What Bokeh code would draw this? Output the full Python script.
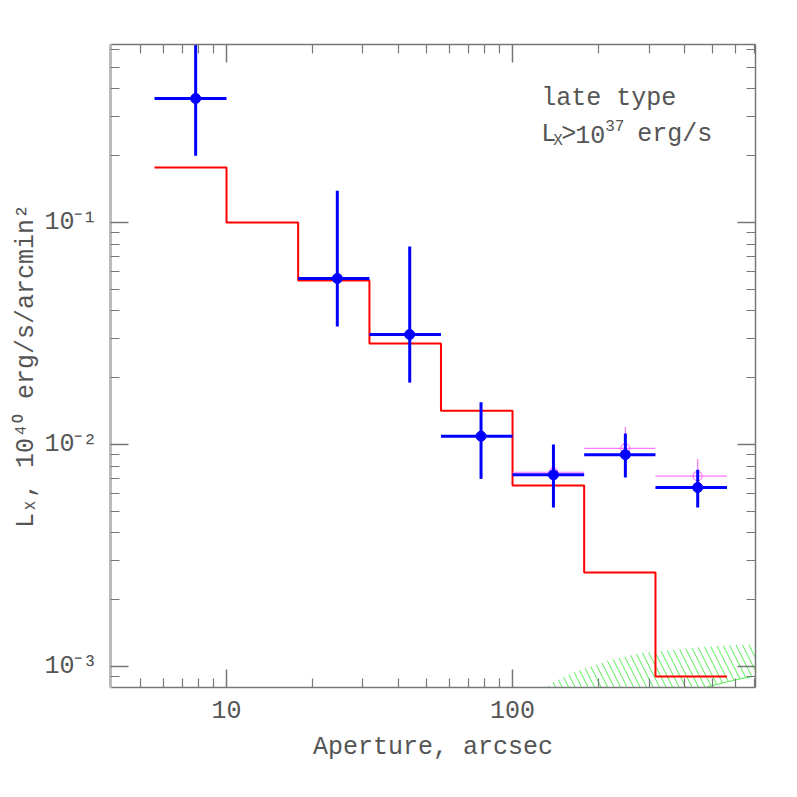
from bokeh.plotting import figure
from bokeh.models import FixedTicker, LogAxis, Label, Range1d
from bokeh.embed import file_html
from bokeh.resources import INLINE

# ---------------- data ----------------
bin_lo = [5.6, 17.8, 31.6, 56.2, 100, 178, 316]
bin_hi = [10.0, 31.6, 56.2, 100, 178, 316, 562]
pt_x = [7.8, 24.4, 43.7, 77.6, 139, 248, 444]
pt_y = [0.362, 0.056, 0.0313, 0.0109, 0.0073, 0.0090, 0.0064]
pt_ylo = [0.200, 0.034, 0.019, 0.0070, 0.0052, 0.0071, 0.0052]
pt_yhi = [0.80, 0.139, 0.078, 0.0155, 0.0100, 0.0112, 0.0077]

mg_lo = [100, 178, 316]
mg_hi = [178, 316, 562]
mg_x = [139, 248, 444]
mg_y = [0.0075, 0.0096, 0.0072]
mg_ylo = [0.0070, 0.0088, 0.0066]
mg_yhi = [0.0080, 0.0120, 0.0086]

step_edges = [5.6, 10, 17.8, 31.6, 56.2, 100, 178, 316, 562]
step_vals = [0.177, 0.100, 0.0548, 0.0285, 0.0142, 0.00653, 0.00265, 0.000902]

band_x = [120, 136, 163, 215, 280, 366, 481, 600, 720]
band_hi = [0.00070, 0.00084, 0.00094, 0.00106, 0.00115, 0.00119, 0.00123, 0.00125, 0.00126]
band_lo = [0.00030, 0.00036, 0.00043, 0.00052, 0.00061, 0.00070, 0.00081, 0.00087, 0.00091]

x_major = [10, 100]
x_minor = [5, 6, 7, 8, 9, 20, 30, 40, 50, 60, 70, 80, 90, 200, 300, 400, 500, 600, 700]
y_major = [0.001, 0.01, 0.1]
y_minor = [0.0009, 0.002, 0.003, 0.004, 0.005, 0.006, 0.007, 0.008, 0.009,
           0.02, 0.03, 0.04, 0.05, 0.06, 0.07, 0.08, 0.09, 0.2, 0.3, 0.4, 0.5, 0.6]
y_labels = {0.001: "10\u207b\u00b3", 0.01: "10\u207b\u00b2", 0.1: "10\u207b\u00b9"}
x_labels = {10: "10", 100: "100"}

FONT = "Liberation Mono"
TXT = "#555555"

p = figure(width=781, height=781, x_axis_type="log", y_axis_type="log",
           x_range=Range1d(3.93, 707), y_range=Range1d(0.000804, 0.634),
           output_backend="svg", toolbar_location=None,
           min_border_left=110, min_border_right=26, min_border_top=44, min_border_bottom=94)
p.grid.visible = False
p.outline_line_color = None
p.background_fill_color = "white"

# hatched band
p.varea(x=band_x, y1=band_lo, y2=band_hi, fill_color=None, fill_alpha=0,
        hatch_pattern="\\", hatch_color="#55ee55", hatch_scale=13, hatch_weight=1)
p.line(x=band_x, y=band_lo, line_color="#55ee55", line_width=1)

# red step model
p.step(x=step_edges, y=step_vals + [step_vals[-1]], mode="after", line_color="#ff0000", line_width=2)

# magenta points
p.segment(x0=mg_lo, y0=mg_y, x1=mg_hi, y1=mg_y, line_color="#ff77ff", line_width=1.2)
p.segment(x0=mg_x, y0=mg_ylo, x1=mg_x, y1=mg_yhi, line_color="#ff77ff", line_width=1.2)
p.scatter(x=mg_x, y=mg_y, size=9, marker="circle", fill_color=None, line_color="#ff77ff", line_width=1.2)

# blue points
p.segment(x0=bin_lo, y0=pt_y, x1=bin_hi, y1=pt_y, line_color="#0000ff", line_width=3)
p.segment(x0=pt_x, y0=pt_ylo, x1=pt_x, y1=pt_yhi, line_color="#0000ff", line_width=3)
p.scatter(x=pt_x, y=pt_y, size=10, marker="circle", fill_color="#0000ff", line_color="#0000ff")

def style(ax, labels=True):
    ax.major_tick_in = 18
    ax.major_tick_out = 0
    ax.minor_tick_in = 9
    ax.minor_tick_out = 0
    ax.major_tick_line_color = "#777777"
    ax.minor_tick_line_color = "#777777"
    ax.major_tick_line_width = 1.5
    ax.minor_tick_line_width = 1.2
    ax.axis_line_color = "#777777"
    ax.axis_line_width = 1.5
    ax.major_label_text_font = FONT
    ax.major_label_text_color = TXT
    ax.major_label_text_font_size = "25px"
    if not labels:
        ax.major_label_text_font_size = "2px"
        ax.major_label_text_alpha = 0
        ax.major_label_standoff = 0
    ax.axis_label_text_font = FONT
    ax.axis_label_text_font_style = "normal"
    ax.axis_label_text_color = TXT
    ax.axis_label_text_font_size = "25px"

xb = p.xaxis[0]
xb.ticker = FixedTicker(ticks=x_major, minor_ticks=x_minor)
xb.major_label_overrides = x_labels
style(xb)
xb.major_label_standoff = 13
xb.axis_label = "Aperture, arcsec"
xb.axis_label_standoff = 12

yl = p.yaxis[0]
yl.ticker = FixedTicker(ticks=y_major, minor_ticks=y_minor)
yl.major_label_overrides = y_labels
style(yl)
yl.axis_line_color = "#bbbbbb"
yl.axis_line_width = 3
yl.major_label_standoff = 13
yl.axis_label = "L\u2093, 10\u2074\u2070 erg/s/arcmin\u00b2"
yl.axis_label_standoff = 0

xt = LogAxis(ticker=FixedTicker(ticks=x_major, minor_ticks=x_minor))
style(xt, labels=False)
p.add_layout(xt, "above")
yr = LogAxis(ticker=FixedTicker(ticks=y_major, minor_ticks=y_minor))
style(yr, labels=False)
p.add_layout(yr, "right")

# annotation
def lab(text, xo, yo, size, yv):
    p.add_layout(Label(x=126, y=yv, x_offset=xo, y_offset=yo, text=text,
                       text_font=FONT, text_font_size=size, text_color=TXT,
                       text_baseline="alphabetic", text_align="left"))

lab("late type", 0, 0, "25px", 0.362)
lab("L", 0, 0, "25px", 0.248)
lab("X", 12, -6, "16px", 0.248)
lab(">", 20, 0, "25px", 0.248)
lab("10", 34, 0, "25px", 0.248)
lab("37", 64, 9, "16px", 0.248)
lab("erg/s", 96, 0, "25px", 0.248)

open("out.html", "w").write(file_html(p, INLINE))
